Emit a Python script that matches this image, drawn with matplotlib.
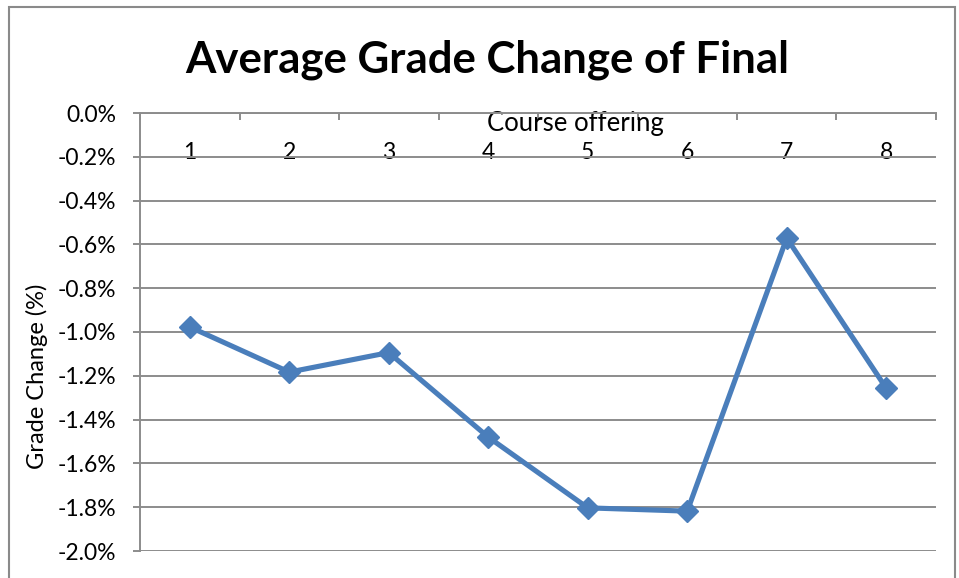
import matplotlib
matplotlib.use("Agg")
import matplotlib.pyplot as plt
from matplotlib.patches import Rectangle
from matplotlib.ticker import FuncFormatter, MultipleLocator, FixedLocator

plt.rcParams['font.family'] = ['Lato', 'DejaVu Sans']
plt.rcParams['axes.unicode_minus'] = False

categories = ['1', '2', '3', '4', '5', '6', '7', '8']
grade_change = [-0.977, -1.183, -1.094, -1.480, -1.803, -1.818, -0.571, -1.257]
title = 'Average Grade Change of Final'
x_title = 'Course offering'
y_title = 'Grade Change (%)'

W, H = 959, 578
fig = plt.figure(figsize=(W / 100, H / 100), dpi=100)
fig.patch.set_facecolor('white')

# chart area border
fig.patches.append(Rectangle((9 / W, -0.1), (955 - 9) / W, (H - 7) / H + 0.1,
                             transform=fig.transFigure, fill=False,
                             edgecolor='#8a8a8a', linewidth=1.5))

ax = fig.add_axes([140 / W, 1 - 551 / H, (936 - 140) / W, (551 - 113) / H])
ax.set_facecolor('white')

x = list(range(len(categories)))
ax.plot(x, grade_change, color='#4a7ebb', linewidth=3.7, marker='D',
        markersize=11, markerfacecolor='#4a7ebb', markeredgecolor='#4a7ebb',
        zorder=3, solid_joinstyle='miter')

ax.set_xlim(-0.5, len(categories) - 0.5)
ax.set_ylim(-2.0, 0.0)

grid_c = '#8c8c8c'
ax.yaxis.set_major_locator(MultipleLocator(0.2))
ax.yaxis.set_major_formatter(FuncFormatter(lambda v, p: f"{v:.1f}%"))
ax.yaxis.grid(True, color=grid_c, linewidth=1.4)
ax.set_axisbelow(True)

for s in ['top', 'right']:
    ax.spines[s].set_visible(False)
ax.spines['left'].set_color(grid_c)
ax.spines['left'].set_linewidth(1.4)
ax.spines['bottom'].set_position(('data', 0.0))
ax.spines['bottom'].set_color(grid_c)
ax.spines['bottom'].set_linewidth(1.4)

ax.set_xticks(x)
ax.set_xticklabels(categories)
ax.xaxis.set_minor_locator(FixedLocator([i - 0.5 for i in range(len(categories) + 1)]))
ax.tick_params(axis='x', which='major', length=0, pad=21, labelsize=16.5)
ax.tick_params(axis='x', which='minor', length=5, width=1.4, color=grid_c, direction='out')
ax.tick_params(axis='y', which='major', length=5, width=1.4, color=grid_c,
               labelsize=16.5, pad=12)

ax.set_xlabel(x_title, fontsize=18.5)
ax.xaxis.set_label_coords((575 - 140) / (936 - 140), 1 - (124 - 113) / 438)
ax.xaxis.label.set_va('center')

fig.text(37 / W, 1 - 376 / H, y_title, rotation=90, fontsize=17,
         ha='center', va='center')

fig.text(487 / W, 1 - 60 / H, title, fontsize=31.5, fontweight='bold',
         ha='center', va='center')

fig.savefig('out.png', dpi=100, facecolor='white')
